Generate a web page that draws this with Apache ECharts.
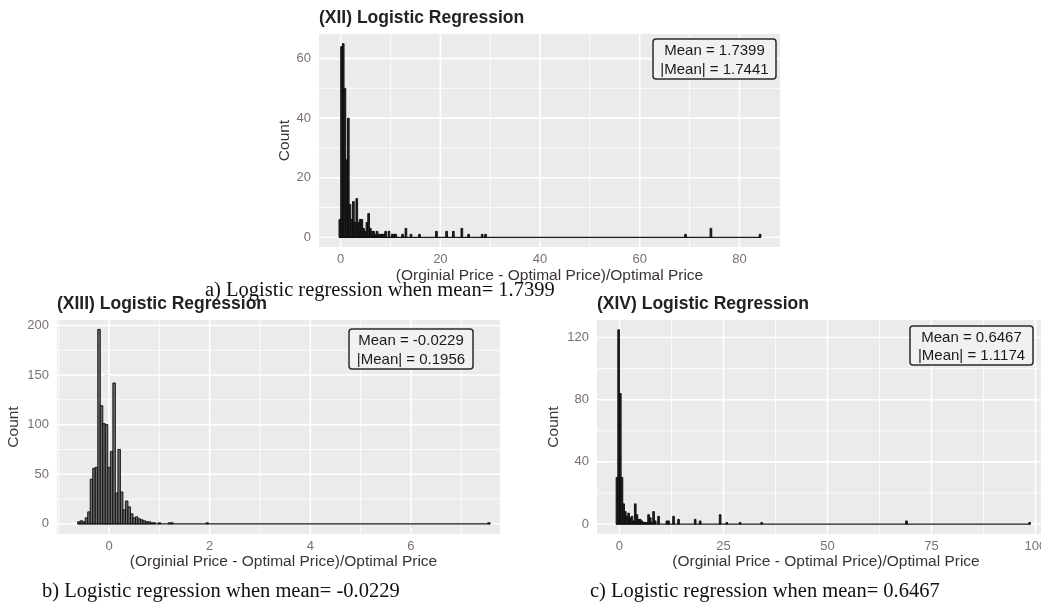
<!DOCTYPE html>
<html>
<head>
<meta charset="utf-8">
<script src="https://cdn.jsdelivr.net/npm/echarts@6/dist/echarts.min.js"></script>
<style>
  html, body { margin: 0; padding: 0; background: #ffffff; }
  #chart { width: 1041px; height: 602px; }
</style>
</head>
<body>
<div id="chart"></div>
<script>
// ---- (XII) Logistic Regression: histogram bins (centre, count) ----
const binWidthA = 0.34;
const binsA = [-0.17, 0.17, 0.51, 0.85, 1.19, 1.53, 1.87, 2.21, 2.55, 2.89, 3.23, 3.57, 3.91, 4.25, 4.59, 4.93,
  5.27, 5.61, 5.95, 6.29, 6.63, 6.97, 7.31, 7.65, 7.99, 8.33, 8.67, 9.01, 9.69, 10.37, 10.71, 11.05, 12.41,
  13.09, 14.11, 15.81, 19.21, 21.25, 22.61, 24.31, 25.67, 28.39, 29.07, 69.19, 74.29, 84.15];
const countsA = [6, 64, 65, 50, 26, 40, 11, 6, 12, 5, 13, 5, 6, 6, 3, 2,
  5, 8, 3, 2, 2, 1, 2, 1, 1, 1, 1, 2, 2, 1, 1, 1, 1,
  3, 1, 1, 2, 2, 2, 3, 1, 1, 1, 1, 3, 1];
const spanA = [-0.34, 84.32];
const xTicksA = [0, 20, 40, 60, 80];
const xMinorA = [10, 30, 50, 70];
const yTicksA = [0, 20, 40, 60];
const yMinorA = [10, 30, 50];

// ---- (XIII) Logistic Regression ----
const binWidthB = 0.05;
const binsB = [-0.6, -0.55, -0.5, -0.45, -0.4, -0.35, -0.3, -0.25, -0.2, -0.15, -0.1, -0.05, 0.0, 0.05, 0.1,
  0.15, 0.2, 0.25, 0.3, 0.35, 0.4, 0.45, 0.5, 0.55, 0.6, 0.65, 0.7, 0.75, 0.8, 0.85, 0.9, 1.0, 1.2, 1.25, 1.95, 7.55];
const countsB = [2, 3, 2, 6, 12, 45, 56, 57, 196, 119, 101, 100, 57, 73, 142,
  31, 75, 32, 14, 23, 17, 10, 6, 7, 5, 4, 3, 2, 2, 1, 1, 1, 1, 1, 1, 1];
const spanB = [-0.625, 7.575];
const xTicksB = [0, 2, 4, 6];
const xMinorB = [-1, 1, 3, 5, 7];
const yTicksB = [0, 50, 100, 150, 200];
const yMinorB = [25, 75, 125, 175];

// ---- (XIV) Logistic Regression ----
const binWidthC = 0.4;
const binsC = [-0.6, -0.2, 0.2, 0.6, 1.0, 1.4, 1.8, 2.2, 2.6, 3.0, 3.4, 3.8, 4.2, 4.6, 5.0, 5.4, 5.8, 6.2, 6.6,
  7.0, 7.4, 7.8, 8.2, 8.6, 9.4, 11.4, 11.8, 13.0, 14.2, 18.2, 19.4, 24.2, 25.8, 29.0, 34.2, 69.0, 98.6];
const countsC = [30, 125, 84, 30, 13, 8, 5, 7, 4, 5, 2, 13, 6, 3, 3, 2, 1, 1, 1,
  6, 4, 1, 8, 2, 5, 2, 2, 5, 3, 3, 2, 6, 1, 1, 1, 2, 1];
const spanC = [-0.8, 98.8];
const xTicksC = [0, 25, 50, 75, 100];
const xMinorC = [12.5, 37.5, 62.5, 87.5];
const yTicksC = [0, 40, 80, 120];
const yMinorC = [20, 60, 100];

// ---- text ----
const panelTitles = ['(XII) Logistic Regression', '(XIII) Logistic Regression', '(XIV) Logistic Regression'];
const meanLines = [['Mean = 1.7399', '|Mean| = 1.7441'], ['Mean = -0.0229', '|Mean| = 0.1956'], ['Mean = 0.6467', '|Mean| = 1.1174']];
const captions = ['a) Logistic regression when mean= 1.7399', 'b) Logistic regression when mean= -0.0229', 'c) Logistic regression when mean= 0.6467'];
const xTitle = '(Orginial Price - Optimal Price)/Optimal Price';
const yTitle = 'Count';

const SANS = 'Liberation Sans, Arial, sans-serif';
const SERIF = 'Liberation Serif, Times New Roman, serif';

// panel layout
const panels = [
  { grid: { left: 319, top: 34, width: 461, height: 213 }, x: [-4.35, 88.15], y: [-3.25, 68.25],
    xTicks: xTicksA, xMinor: xMinorA, yTicks: yTicksA, yMinor: yMinorA,
    bins: binsA, counts: countsA, bw: binWidthA, span: spanA, yGap: 26, xGap: 21, xPad: 0,
    fill: '#262626' },
  { grid: { left: 57, top: 320, width: 443, height: 214 }, x: [-1.035, 7.77], y: [-10.3, 205.5],
    xTicks: xTicksB, xMinor: xMinorB, yTicks: yTicksB, yMinor: yMinorB,
    bins: binsB, counts: countsB, bw: binWidthB, span: spanB, yGap: 35, xGap: 20, xPad: 10,
    fill: '#6b6b6b' },
  { grid: { left: 597, top: 320, width: 458, height: 214 }, x: [-5.4, 104.7], y: [-6.4, 131.3],
    xTicks: xTicksC, xMinor: xMinorC, yTicks: yTicksC, yMinor: yMinorC,
    bins: binsC, counts: countsC, bw: binWidthC, span: spanC, yGap: 35, xGap: 20, xPad: 0,
    fill: '#262626' }
];

function gridLineItem(params, api) {
  const cs = params.coordSys;
  const v = api.value(0);
  const horiz = api.value(1) === 1;
  const major = api.value(2) === 1;
  let shape;
  if (horiz) {
    const y = api.coord([0, v])[1];
    shape = { x1: cs.x, y1: y, x2: cs.x + cs.width, y2: y };
  } else {
    const x = api.coord([v, 0])[0];
    shape = { x1: x, y1: cs.y, x2: x, y2: cs.y + cs.height };
  }
  return { type: 'line', shape: shape, style: { stroke: '#ffffff', lineWidth: major ? 1.6 : 0.8 } };
}

function histItem(bw, fill) {
  return function (params, api) {
    const c = api.value(0), n = api.value(1);
    const p0 = api.coord([c - bw / 2, 0]);
    const p1 = api.coord([c + bw / 2, n]);
    return {
      type: 'rect',
      shape: { x: p0[0], y: p1[1], width: p1[0] - p0[0], height: p0[1] - p1[1] },
      style: { fill: fill, stroke: '#0a0a0a', lineWidth: 0.9 }
    };
  };
}

const grids = [], xAxes = [], yAxes = [], series = [];
panels.forEach(function (p, i) {
  grids.push(Object.assign({ show: true, backgroundColor: '#ebebeb', borderWidth: 0,
    containLabel: false, outerBoundsMode: 'none' }, p.grid));
  xAxes.push({
    type: 'value', gridIndex: i, min: p.x[0], max: p.x[1],
    axisLine: { show: false }, splitLine: { show: false },
    axisTick: { show: true, length: 4, customValues: p.xTicks, lineStyle: { color: '#6a6a6a', width: 1 } },
    axisLabel: { customValues: p.xTicks, margin: 6, color: '#7a7070', fontSize: 13, fontFamily: SANS },
    name: xTitle, nameLocation: 'middle', nameGap: p.xGap,
    nameTextStyle: { fontSize: 15.5, color: '#3a3333', fontFamily: SANS, padding: [0, 0, 0, p.xPad] }
  });
  yAxes.push({
    type: 'value', gridIndex: i, min: p.y[0], max: p.y[1],
    axisLine: { show: false }, splitLine: { show: false },
    axisTick: { show: true, length: 4, customValues: p.yTicks, lineStyle: { color: '#6a6a6a', width: 1 } },
    axisLabel: { customValues: p.yTicks, margin: 8, color: '#7a7070', fontSize: 13, fontFamily: SANS },
    name: yTitle, nameLocation: 'middle', nameGap: p.yGap, nameRotate: 90,
    nameTextStyle: { fontSize: 15.5, color: '#3a3333', fontFamily: SANS }
  });
  const lines = [];
  p.xTicks.forEach(function (v) { lines.push([v, 0, 1]); });
  p.xMinor.forEach(function (v) { if (v > p.x[0] && v < p.x[1]) lines.push([v, 0, 0]); });
  p.yTicks.forEach(function (v) { lines.push([v, 1, 1]); });
  p.yMinor.forEach(function (v) { lines.push([v, 1, 0]); });
  series.push({
    type: 'custom', xAxisIndex: i, yAxisIndex: i, z: 1, silent: true,
    renderItem: gridLineItem, data: lines
  });
  // baseline of empty bins across the data range
  series.push({
    type: 'line', xAxisIndex: i, yAxisIndex: i, z: 2, silent: true, symbol: 'none',
    lineStyle: { color: '#1a1a1a', width: 1.2 },
    data: [[p.span[0], 0], [p.span[1], 0]]
  });
  series.push({
    type: 'custom', xAxisIndex: i, yAxisIndex: i, z: 3, clip: true,
    renderItem: histItem(p.bw, p.fill),
    data: p.bins.map(function (c, k) { return [c, p.counts[k]]; })
  });
});

const titles = [
  { text: panelTitles[0], left: 319, top: 9 },
  { text: panelTitles[1], left: 57, top: 295 },
  { text: panelTitles[2], left: 597, top: 295 }
].map(function (t) {
  return Object.assign({ padding: 0, textStyle: { fontSize: 17.5, fontWeight: 'bold', color: '#222', fontFamily: SANS } }, t);
});

function meanBox(x, y, w, h, lines) {
  return {
    type: 'group',
    children: [
      { type: 'rect', z: 100, shape: { x: x, y: y, width: w, height: h, r: 3 },
        style: { fill: '#f1f1f1', stroke: '#2b2b2b', lineWidth: 1.5 } },
      { type: 'text', z: 101, x: x + w / 2, y: y + h * 0.3,
        style: { text: lines[0], fill: '#1a1a1a', font: '15px ' + SANS, textAlign: 'center', textVerticalAlign: 'middle' } },
      { type: 'text', z: 101, x: x + w / 2, y: y + h * 0.77,
        style: { text: lines[1], fill: '#1a1a1a', font: '15px ' + SANS, textAlign: 'center', textVerticalAlign: 'middle' } }
    ]
  };
}

function caption(x, y, text) {
  return { type: 'text', x: x, y: y, z: 100,
    style: { text: text, fill: '#111', font: '20.5px ' + SERIF, textAlign: 'left', textVerticalAlign: 'middle' } };
}

const option = {
  animation: false,
  backgroundColor: '#ffffff',
  title: titles,
  grid: grids,
  xAxis: xAxes,
  yAxis: yAxes,
  series: series,
  graphic: [
    meanBox(653, 39, 123, 40, meanLines[0]),
    meanBox(349, 329, 124, 40, meanLines[1]),
    meanBox(910, 326, 123, 39, meanLines[2]),
    caption(205, 291, captions[0]),
    caption(42, 592, captions[1]),
    caption(590, 592, captions[2])
  ]
};

const chart = echarts.init(document.getElementById('chart'), null, { renderer: 'canvas' });
chart.setOption(option);
</script>
</body>
</html>
